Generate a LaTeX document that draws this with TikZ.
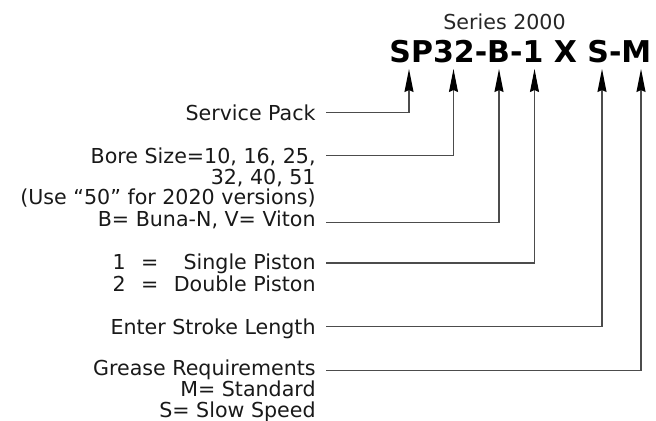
\documentclass[tikz,border=0pt]{standalone}
\usepackage{fontspec}
\setmainfont{DejaVu Sans}
\usepackage{tikz}
\usetikzlibrary{arrows.meta, positioning}

\newcommand{\lblfont}{\fontsize{10.3}{10.4}\selectfont}
\newcommand{\stackfont}{\lblfont\lineskiplimit=-20pt\relax}
\newcommand{\codefont}{\fontsize{15}{18}\selectfont\bfseries}

\tikzset{
  lbl/.style={inner sep=0pt, anchor=base east, font=\lblfont, text=black!90},
  lblstack/.style={lbl, align=right, font=\stackfont},
  lead/.style={black!70, line width=0.6pt,
    -{Stealth[length=11.5pt, width=4.5pt, inset=1pt, black]}},
}

\begin{document}
\begin{tikzpicture}[x=0.5pt, y=-0.5pt]
  \useasboundingbox (0,0) rectangle (656,421);

  % the part number
  \node[inner sep=0pt, anchor=base west, font=\lblfont, text=black!85] (series) at (443,30) {Series 2000};
  \node[inner sep=0pt, anchor=base west, font=\codefont] (code) at (389,63) {SP32-B-1 X S-M};

  % arrow tips under the characters
  \coordinate (t-sp) at (409,69);
  \coordinate (t-bore) at (453.5,69);
  \coordinate (t-seal) at (499,69);
  \coordinate (t-piston) at (534.5,69);
  \coordinate (t-stroke) at (602,69);
  \coordinate (t-grease) at (641,69);

  % the option labels (stacked ones sit on their last line)
  \node[lbl] (svc) at (316,120.5) {Service Pack};
  \node[lblstack] (bore) at (316,205) {Bore Size=10, 16, 25,\\ 32, 40, 51\\ (Use “50” for 2020 versions)};
  \node[lbl] (buna) at (316,226.5) {B= Buna-N, V= Viton};
  \node[lbl] (piston) at (316,270) {\begin{tabular}[t]{@{}l@{\hspace{7.75pt}}c@{\hspace{7.75pt}}r@{}}
    1 & = & Single Piston\\ 2 & = & Double Piston\end{tabular}};
  \node[lbl] (stroke) at (316,334.5) {Enter Stroke Length};
  \node[lblstack] (grease) at (316,417.5) {Grease Requirements\\ M= Standard\\ S= Slow Speed};

  % leaders from the labels up to the code
  \draw[lead] ([shift={(10,-7.8)}]svc.base east) -| (t-sp);
  \draw[lead] ([shift={(10,-49.3)}]bore.base east) -| (t-bore);
  \draw[lead] ([shift={(10,-4)}]buna.base east) -| (t-seal);
  \draw[lead] ([shift={(10,-7)}]piston.base east) -| (t-piston);
  \draw[lead] ([shift={(10,-7.8)}]stroke.base east) -| (t-stroke);
  \draw[lead] ([shift={(10,-47)}]grease.base east) -| (t-grease);
\end{tikzpicture}
\end{document}
